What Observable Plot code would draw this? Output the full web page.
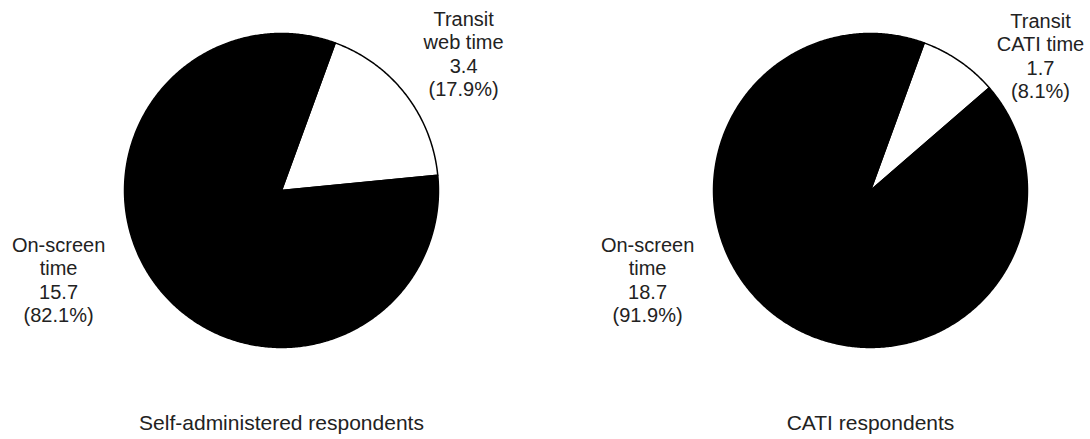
<!DOCTYPE html>
<html>
<head>
<meta charset="utf-8">
<script src="https://cdn.jsdelivr.net/npm/d3@7"></script>
<script src="https://cdn.jsdelivr.net/npm/@observablehq/plot@0.6"></script>
<style>
  body { margin: 0; background: #fff; }
</style>
</head>
<body>
<div id="chart"></div>
<script>
// Respondent groups (one pie each)
const groups = ["Self-administered respondents", "CATI respondents"];

// Segment names per group: transit time first, then on-screen time
const selfSegments = ["Transit\nweb time", "On-screen\ntime"];
const catiSegments = ["Transit\nCATI time", "On-screen\ntime"];

// Mean minutes per segment
const selfMinutes = [3.4, 15.7];
const catiMinutes = [1.7, 18.7];

// Share of total time, percent
const selfShares = [17.9, 82.1];
const catiShares = [8.1, 91.9];

// Slice fills, same order as the segments
const sliceFills = ["white", "black"];

// ---- layout ----
const startDegrees = 20;            // first slice begins 20° clockwise from 12 o'clock
// label anchors in units of the pie radius (top of the text block)
const labelAnchors = [
  [[1.16, 1.154], [-1.42, -0.285]],
  [[1.083, 1.141], [-1.42, -0.285]]
];

const segments = [selfSegments, catiSegments];
const minutes = [selfMinutes, catiMinutes];
const shares = [selfShares, catiShares];

const start = startDegrees * Math.PI / 180;
const pie = d3.pie().sort(null).startAngle(start).endAngle(start + 2 * Math.PI);

// Outline of every slice: centre, arc, back to centre
const outline = [];
const labels = [];
groups.forEach((group, gi) => {
  pie(shares[gi]).forEach((arc, si) => {
    const key = `${gi}-${si}`;
    const fill = sliceFills[si];
    const steps = Math.max(2, Math.ceil((arc.endAngle - arc.startAngle) / (Math.PI / 360)));
    outline.push({group, key, fill, x: 0, y: 0});
    for (let k = 0; k <= steps; ++k) {
      const t = arc.startAngle + (arc.endAngle - arc.startAngle) * k / steps;
      outline.push({group, key, fill, x: Math.sin(t), y: Math.cos(t)});
    }
    outline.push({group, key, fill, x: 0, y: 0});
    labels.push({
      group,
      x: labelAnchors[gi][si][0],
      y: labelAnchors[gi][si][1],
      text: `${segments[gi][si]}\n${minutes[gi][si].toFixed(1)}\n(${shares[gi][si].toFixed(1)}%)`
    });
  });
});

const chart = Plot.plot({
  width: 1090,
  height: 439,
  marginLeft: 81,
  marginRight: 20,
  marginTop: 0,
  marginBottom: 44,
  style: {
    fontFamily: "'Liberation Sans', Arial, sans-serif",
    fontSize: "20px",
    background: "white",
    color: "#222"
  },
  fx: {domain: groups, axis: null, paddingInner: 189 / 589, paddingOuter: 0},
  x: {domain: [-1.274, 1.274], axis: null},
  y: {domain: [-1.306, 1.210], axis: null},
  color: {type: "identity"},
  marks: [
    Plot.line(outline, {
      fx: "group", x: "x", y: "y", z: "key",
      fill: "fill", stroke: "black", strokeWidth: 1.5,
      strokeLinejoin: "round", curve: "linear"
    }),
    Plot.text(labels, {
      fx: "group", x: "x", y: "y", text: "text",
      lineAnchor: "top", lineHeight: 1.17, fontSize: 20, fill: "#222"
    }),
    Plot.text(groups, {
      fx: d => d, text: d => d,
      frameAnchor: "bottom", lineAnchor: "top", dy: 20,
      fontSize: 21, fill: "#222"
    })
  ]
});

document.getElementById("chart").appendChild(chart);
</script>
</body>
</html>
